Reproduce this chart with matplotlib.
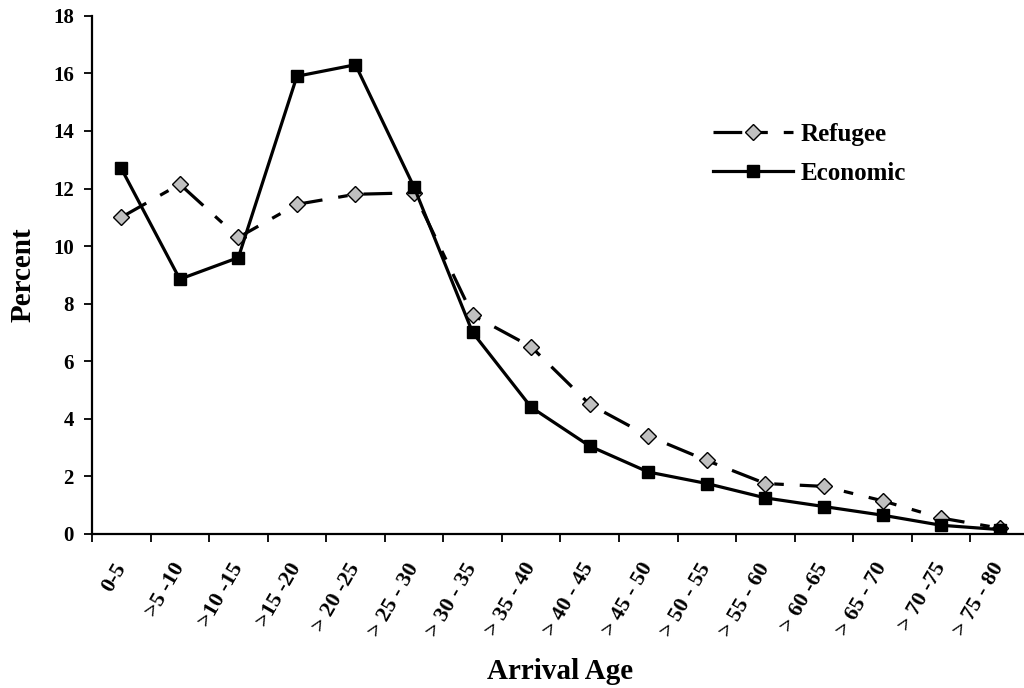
import matplotlib.pyplot as plt
import numpy as np

# Age groups and shares (percent) by migrant type
age_groups = ['0-5', '>5 -10', '>10 -15', '>15 -20', '> 20 -25', '> 25 - 30',
              '> 30 - 35', '> 35 - 40', '> 40 - 45', '> 45 - 50', '> 50 - 55',
              '> 55 - 60', '> 60 -65', '> 65 - 70', '> 70 -75', '> 75 - 80']
refugee = [11.0, 12.15, 10.3, 11.45, 11.8, 11.85, 7.6, 6.5, 4.5, 3.4, 2.55,
           1.75, 1.65, 1.15, 0.55, 0.2]
economic = [12.7, 8.85, 9.6, 15.9, 16.3, 12.05, 7.0, 4.4, 3.05, 2.15, 1.75,
            1.25, 0.95, 0.65, 0.3, 0.15]

plt.rcParams['font.family'] = ['Liberation Serif', 'DejaVu Serif']
plt.rcParams['font.weight'] = 'bold'

fig = plt.figure(figsize=(10.24, 6.88), dpi=100)
ax = fig.add_axes([0.0898, 0.224, 0.915, 0.753])

x = np.arange(len(age_groups))
ax.plot(x, refugee, color='black', linewidth=2.3, dashes=(9, 5, 3, 5),
        marker='D', markersize=8, markerfacecolor='#c0c0c0',
        markeredgecolor='black', markeredgewidth=1, label='Refugee')
ax.plot(x, economic, color='black', linewidth=2.3, marker='s', markersize=8,
        markerfacecolor='black', markeredgecolor='black', label='Economic')

ax.set_xlim(-0.5, len(age_groups) - 0.5)
ax.set_ylim(0, 18)
ax.set_yticks(np.arange(0, 19, 2))
ax.tick_params(axis='y', labelsize=15, direction='out', length=6, width=1.3,
               pad=7)

# boundary ticks (unlabelled) and centred labels
ax.set_xticks(np.arange(-0.5, len(age_groups), 1))
ax.set_xticklabels([])
ax.tick_params(axis='x', which='major', direction='out', length=6, width=1.3)
ax.set_xticks(x, minor=True)
ax.set_xticklabels(age_groups, minor=True, rotation=60, ha='right',
                   va='center', rotation_mode='anchor', fontsize=16,
                   fontweight='bold')
ax.tick_params(axis='x', which='minor', length=0, pad=22)

for side in ['top', 'right']:
    ax.spines[side].set_visible(False)
for side in ['left', 'bottom']:
    ax.spines[side].set_linewidth(1.6)

ax.set_xlabel('Arrival Age', fontsize=21, fontweight='bold', labelpad=13)
ax.set_ylabel('Percent', fontsize=21, fontweight='bold', labelpad=12)

fig.legend(loc='upper left', bbox_to_anchor=(0.696, 0.821), frameon=False,
           fontsize=18, handlelength=3.2, handletextpad=0.3,
           labelspacing=0.62, borderpad=0, borderaxespad=0)

fig.savefig('out.png', dpi=100)
